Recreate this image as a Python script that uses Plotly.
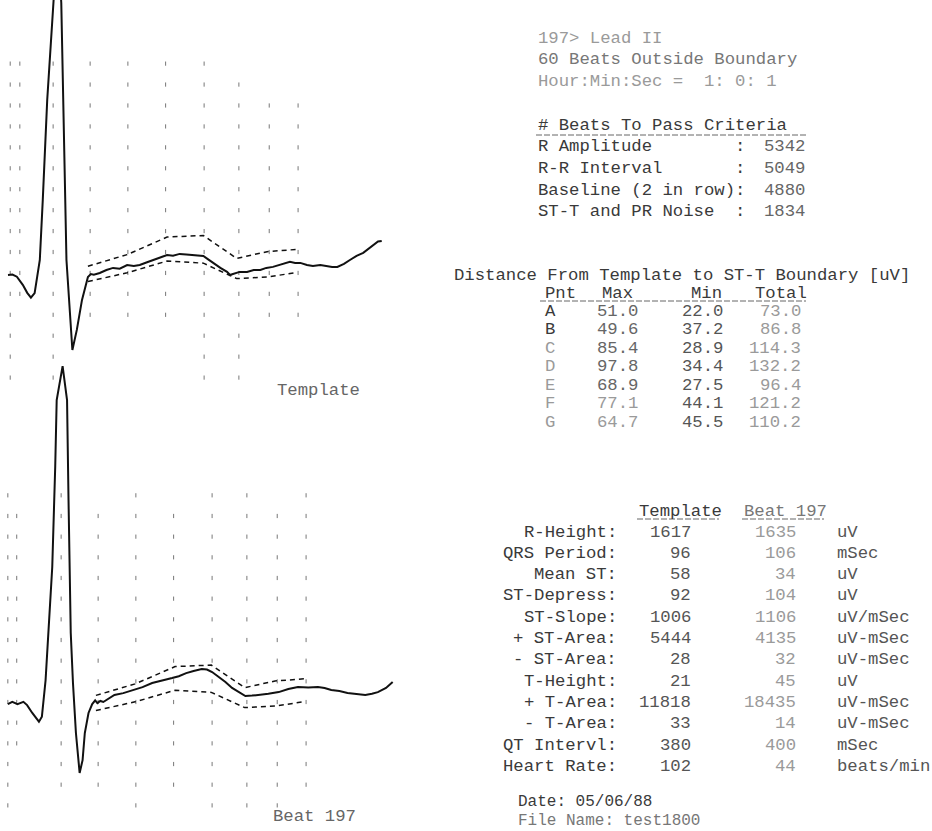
import numpy as np
import plotly.graph_objects as go

W, H = 932, 831

# ---------------- ECG data (time in ms, amplitude in uV) ----------------
template_t = [0, 6, 12, 20, 26, 31, 36, 43, 47, 53, 67, 72, 79, 84, 87, 93, 100, 108, 112, 116,
              124, 133, 142, 151, 161, 170, 178, 187, 196, 205, 215, 223, 232, 241, 250, 257,
              264, 270, 277, 287, 296, 300, 304, 313, 323, 332, 341, 349, 358, 370, 381, 388,
              395, 404, 412, 422, 431, 438, 445, 454, 462, 471, 480, 487, 493, 500, 505]
template_uv = [-10, -8, -18, -57, -95, -118, -96, 62, 349, 827, 1600, 1290, 62, -225, -368, -272,
               -129, -19, -5, -8, 0, 14, 24, 20, 38, 33, 38, 50, 62, 72, 86, 82, 91, 88, 86, 84,
               81, 66, 48, 24, 5, -10, -5, 5, 5, 14, 14, 24, 29, 43, 53, 48, 48, 38, 33, 38, 33,
               29, 29, 43, 62, 82, 96, 115, 134, 150, 153]

beat_t = [-11, -5, 2, 10, 15, 22, 31, 35, 40, 44, 49, 53, 55, 63, 69, 71, 74, 77, 81, 86, 90,
          93, 98, 103, 107, 110, 114, 118, 122, 133, 145, 158, 171, 184, 197, 211, 220, 230,
          240, 251, 258, 265, 274, 283, 292, 301, 310, 319, 328, 341, 355, 368, 381, 395, 408,
          417, 426, 437, 448, 460, 472, 481, 489, 500, 509]
beat_uv = [-10, 1, -10, 1, -15, -53, -95, -71, 106, 334, 653, 1137, 1461, 1625, 1461, 977, 334,
           92, -150, -343, -281, -150, -53, -10, 8, -5, 5, 0, 10, 34, 43, 58, 72, 92, 102, 116,
           125, 140, 150, 160, 157, 145, 121, 97, 68, 48, 29, 31, 34, 40, 48, 63, 73, 70, 73,
           68, 58, 53, 44, 40, 34, 40, 48, 68, 97]

# ST-T boundary points
points = ["A", "B", "C", "D", "E", "F", "G"]
point_t = [108, 161, 215, 264, 309, 350, 391]
dist_max = [51.0, 49.6, 85.4, 97.8, 68.9, 77.1, 64.7]
dist_min = [22.0, 37.2, 28.9, 34.4, 27.5, 44.1, 45.5]

# dotted grid (ms columns, uV rows)
grid_uv = list(range(-500, 1001, 100))
tmpl_grid_t = [3, 16, 61, 111, 162, 213, 265, 312, 353, 392]
tmpl_grid_lo = [-500, -100, -500, -200, -200, -200, -500, -500, -200, -200]
tmpl_grid_hi = [1000, 1000, 1000, 1000, 1000, 1000, 1000, 900, 800, 800]
beat_grid_t = [-11, 1, 61, 111, 162, 213, 265, 312, 353, 392]
beat_grid_lo = [-500, -200, -400, -400, -500, -400, -500, -500, -500, -400]
beat_grid_hi = [1000, 900, 1000, 900, 1000, 900, 1000, 1000, 900, 1000]

# ---------------- text data ----------------
header_lines = ["197> Lead II", "60 Beats Outside Boundary", "Hour:Min:Sec =  1: 0: 1"]
criteria_title = "# Beats To Pass Criteria"
criteria_labels = ["R Amplitude", "R-R Interval", "Baseline (2 in row)", "ST-T and PR Noise"]
criteria_counts = [5342, 5049, 4880, 1834]

dist_title = "Distance From Template to ST-T Boundary [uV]"

meas_labels = ["R-Height", "QRS Period", "Mean ST", "ST-Depress", "ST-Slope", "+ ST-Area",
               "- ST-Area", "T-Height", "+ T-Area", "- T-Area", "QT Intervl", "Heart Rate"]
meas_template = [1617, 96, 58, 92, 1006, 5444, 28, 21, 11818, 33, 380, 102]
meas_beat = [1635, 106, 34, 104, 1106, 4135, 32, 45, 18435, 14, 400, 44]
meas_units = ["uV", "mSec", "uV", "uV", "uV/mSec", "uV-mSec", "uV-mSec", "uV", "uV-mSec",
              "uV-mSec", "mSec", "beats/min"]

date_text = "Date: 05/06/88"
file_text = "File Name: test1800"

# ---------------- figure ----------------
INK = "#111111"
DARK = "#3a3a3a"
FADE = "#9a9a9a"
FONT = "Liberation Mono, Courier New, monospace"
FS = 17.3

tmpl_at_pts = np.interp(point_t, template_t, template_uv)
bound_hi = list(tmpl_at_pts + np.array(dist_max))
bound_lo = list(tmpl_at_pts - np.array(dist_min))


def grid_xy(cols, lo, hi):
    xs, ys = [], []
    for c, a, b in zip(cols, lo, hi):
        for r in grid_uv:
            if a <= r <= b:
                xs.append(c)
                ys.append(r)
    return xs, ys


fig = go.Figure()
panels = [("x", "y", tmpl_grid_t, tmpl_grid_lo, tmpl_grid_hi, template_t, template_uv),
          ("x2", "y2", beat_grid_t, beat_grid_lo, beat_grid_hi, beat_t, beat_uv)]
for xa, ya, gc, glo, ghi, tt, vv in panels:
    gx, gy = grid_xy(gc, glo, ghi)
    fig.add_trace(go.Scatter(x=gx, y=gy, mode="markers", xaxis=xa, yaxis=ya,
                             marker=dict(symbol="line-ns", size=3, color="#777",
                                         line=dict(width=1, color="#777")),
                             hoverinfo="skip"))
    fig.add_trace(go.Scatter(x=point_t, y=bound_hi, mode="lines", xaxis=xa, yaxis=ya,
                             line=dict(color=INK, width=1.5, dash="5px,4px")))
    fig.add_trace(go.Scatter(x=point_t, y=bound_lo, mode="lines", xaxis=xa, yaxis=ya,
                             line=dict(color=INK, width=1.5, dash="5px,4px")))
    fig.add_trace(go.Scatter(x=tt, y=vv, mode="lines", xaxis=xa, yaxis=ya,
                             line=dict(color=INK, width=2)))

ann = []


def txt(s, px, py, color=DARK, anchor="left", size=FS):
    ann.append(dict(text=s, x=px / W, y=1 - py / H, xref="paper", yref="paper",
                    xanchor=anchor, yanchor="middle", showarrow=False,
                    font=dict(family=FONT, size=size, color=color)))


shapes = []


def uline(x0, x1, py):
    shapes.append(dict(type="line", xref="paper", yref="paper", x0=x0 / W, x1=x1 / W,
                       y0=1 - py / H, y1=1 - py / H,
                       line=dict(color="#666", width=1, dash="6px,2px")))


# header block
for i, s in enumerate(header_lines):
    txt(s, 536, 38 + i * 21.5, FADE if i != 1 else "#777")
txt(criteria_title, 536, 126)
uline(536, 808, 135)
for i, (lab, cnt) in enumerate(zip(criteria_labels, criteria_counts)):
    py = 147 + i * 21.5
    txt(f"{lab:<19}:", 536, py)
    txt(str(cnt), 807, py, "#666", "right")

# distance table
txt(dist_title, 452, 275)
for lab, px in zip(["Pnt", "Max", "Min", "Total"], [543, 600, 689, 753]):
    txt(lab, px, 293)
uline(540, 806, 301)
for i, p in enumerate(points):
    py = 311 + i * 18.6
    txt(p, 543, py, DARK if i < 2 else FADE)
    txt(f"{dist_max[i]:.1f}", 595, py, "#666" if i < 5 else FADE)
    txt(f"{dist_min[i]:.1f}", 680, py, "#555")
    txt(f"{dist_max[i] + dist_min[i]:.1f}", 803, py, FADE, "right")

# measurement table
txt("Template", 637, 511)
txt("Beat 197", 742, 511, "#777")
uline(637, 719, 519)
uline(742, 824, 519)
for i in range(len(meas_labels)):
    py = 532 + i * 21.3
    txt(meas_labels[i] + ":", 619, py, DARK, "right")
    txt(str(meas_template[i]), 693, py, "#555", "right")
    txt(str(meas_beat[i]), 798, py, FADE, "right")
    txt(meas_units[i], 835, py, "#555")

txt(date_text, 516, 802, DARK, size=16)
txt(file_text, 516, 821, "#777", size=16)

# panel labels
txt("Template", 275, 390, "#666")
txt("Beat 197", 271, 816, "#666")

fig.update_layout(
    width=W, height=H, margin=dict(l=0, r=0, t=0, b=0),
    paper_bgcolor="white", plot_bgcolor="rgba(0,0,0,0)", showlegend=False,
    annotations=ann, shapes=shapes,
    xaxis=dict(domain=[0, 400 / W], range=[-10.8, 529.7], visible=False),
    yaxis=dict(domain=[1 - 400 / H, 1], range=[-607, 1304], visible=False),
    xaxis2=dict(domain=[0, 400 / W], range=[-21.6, 518.9], visible=False, anchor="y2"),
    yaxis2=dict(domain=[0, 1 - 350 / H], range=[-624, 1703], visible=False, anchor="x2"),
)

fig.write_html("out.html", config={"displayModeBar": False},
               post_script="document.body.style.margin='0';document.body.style.overflow='hidden';")
